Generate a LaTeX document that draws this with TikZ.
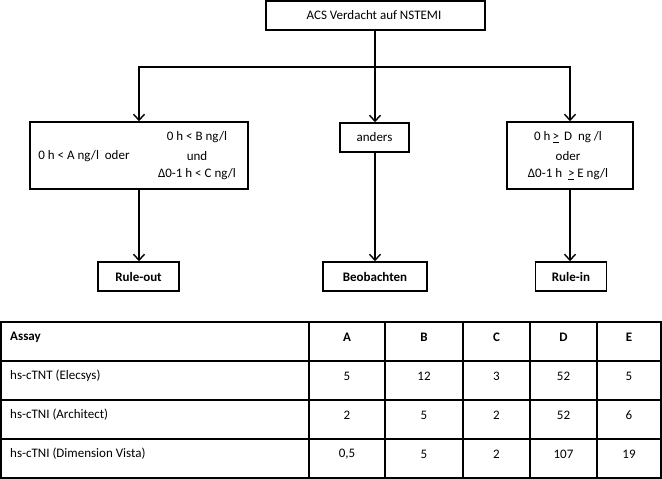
\documentclass[tikz,border=0pt]{standalone}
\usepackage{fontspec}
\setmainfont{Carlito}
\usetikzlibrary{arrows.meta}
\begin{document}
\begin{tikzpicture}[x=1pt,y=-1pt,
  font=\fontsize{13}{15}\selectfont,
  box/.style={draw, line width=1.5pt, inner sep=0pt},
  bbox/.style={box, font=\fontsize{13}{15}\selectfont\bfseries},
  txt/.style={inner sep=0pt},
  ln/.style={line width=1.4pt},
  arr/.style={line width=1.4pt, -{Straight Barb[length=6pt,width=11pt,line width=1.4pt]}},
  tline/.style={line width=1.5pt},
  tframe/.style={line width=2pt}]
\useasboundingbox (0,0) rectangle (662,479);

% flowchart boxes
\node[box, minimum width=219pt, minimum height=29pt] (top) at (375.5,15.5) {};
\node[txt] (toptxt) at (374,15.5) {ACS Verdacht auf NSTEMI};

\node[box, minimum width=218pt, minimum height=67pt] (left) at (139,155.5) {};
\node[txt] (lA) at (84,156) {0 h < A ng/l\ \ oder};
\node[txt] (lB) at (197,137) {0 h < B ng/l};
\node[txt] (lund) at (197,156) {und};
\node[txt] (lC) at (197,174) {Δ0-1 h < C ng/l};

\node[box, minimum width=69pt, minimum height=29pt] (anders) at (374.5,137.5) {anders};

\node[box, minimum width=126pt, minimum height=67pt] (right) at (570,155.5) {};
\node[txt] (rD) at (568,137) {0 h\,\underline{>}\, D\ \ ng /l};
\node[txt] (roder) at (568,156) {oder};
\node[txt] (rE) at (568,174) {Δ0-1 h\ \ \underline{>}\ E ng/l};

\node[bbox, minimum width=81pt, minimum height=29pt] (ruleout) at (138.5,276.5) {Rule-out};
\node[bbox, minimum width=104pt, minimum height=29pt] (beob) at (375,276.5) {Beobachten};
\node[bbox, minimum width=71pt, minimum height=29pt] (rulein) at (571,276.5) {Rule-in};

% connectors
\coordinate (j) at (375,67);
\draw[ln] (top.south -| j) -- (j);
\draw[arr] (j) -| (left.north);
\draw[arr] (j) -| (right.north);
\draw[arr] (j) -- (anders.north -| j);
\draw[arr] (left.south) -- (left.south |- ruleout.north);
\draw[arr] (anders.south -| j) -- (beob.north -| j);
\draw[arr] (right.south) -- (right.south |- rulein.north);

% table
\foreach \y in {361,400,439} \draw[tline] (1,\y) -- (661,\y);
\foreach \x in {309,385,463,530,597} \draw[tline] (\x,322) -- (\x,478);
\draw[tframe] (1,322) rectangle (661,478);

\node[txt, anchor=west, font=\fontsize{13}{15}\selectfont\bfseries] (h0) at (10,337) {Assay};
\foreach \t [count=\i] in {A,B,C,D,E}
  \node[txt, font=\fontsize{13}{15}\selectfont\bfseries] (h\i) at ({\ifcase\i\or 347\or 424\or 496.5\or 563.5\or 629\fi},337) {\t};

\node[txt, anchor=west] (r1) at (10,376) {hs-cTNT (Elecsys)};
\node[txt, anchor=west] (r2) at (10,415) {hs-cTNI (Architect)};
\node[txt, anchor=west] (r3) at (10,454) {hs-cTNI (Dimension Vista)};

\foreach \t [count=\i] in {5,12,3,52,5}
  \node[txt] (a\i) at ({\ifcase\i\or 347\or 424\or 496.5\or 563.5\or 629\fi},376) {\t};
\foreach \t [count=\i] in {2,5,2,52,6}
  \node[txt] (b\i) at ({\ifcase\i\or 347\or 424\or 496.5\or 563.5\or 629\fi},415) {\t};
\foreach \t [count=\i] in {{0,5},5,2,107,19}
  \node[txt] (c\i) at ({\ifcase\i\or 347\or 424\or 496.5\or 563.5\or 629\fi},454) {\t};
\end{tikzpicture}
\end{document}
